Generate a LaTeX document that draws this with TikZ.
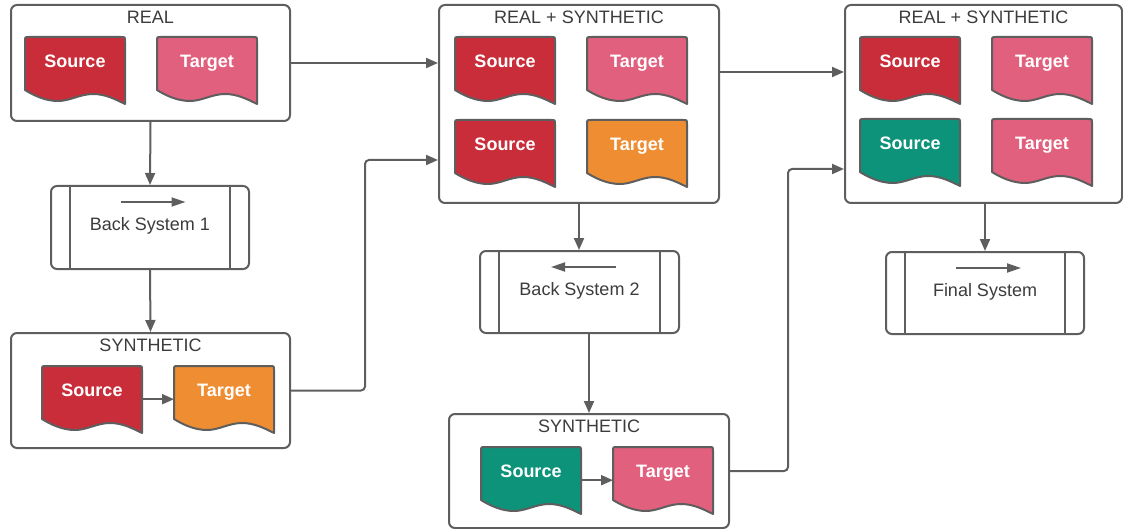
\documentclass[tikz,border=0pt]{standalone}
\usepackage{fontspec}
\setmainfont{Liberation Sans}
\usetikzlibrary{arrows.meta}

\definecolor{ln}{HTML}{5E5E5E}
\definecolor{txt}{HTML}{3C3C3C}
\definecolor{srcred}{HTML}{C92D39}
\definecolor{tgtpink}{HTML}{E0607E}
\definecolor{tgtorange}{HTML}{EF8D32}
\definecolor{srcgreen}{HTML}{0C937A}

\tikzset{
  container/.style={draw=ln, line width=2pt, rounded corners=6pt, fill=white,
    inner sep=0pt, anchor=north west},
  procbox/.style={draw=ln, line width=2pt, rounded corners=6pt, fill=white,
    inner sep=0pt, anchor=north west},
  holder/.style={inner sep=0pt, minimum width=100pt, minimum height=66pt, anchor=north west},
  doclabel/.style={text=white, font=\fontsize{18}{20}\selectfont\bfseries, anchor=base, inner sep=0pt},
  title/.style={text=txt, font=\fontsize{18}{20}\selectfont, anchor=base, inner sep=0pt},
  conn/.style={draw=ln, line width=2pt, -{Triangle[length=12pt,width=10pt]}},
  flow/.style={draw=ln, line width=1.8pt, -{Triangle[length=14pt,width=9pt]}},
  rail/.style={draw=ln, line width=2pt},
}

% document shape with a wavy bottom edge: name, left, top, fill, label
\newcommand\docshape[5]{%
  \node[holder] (#1) at (#2,#3) {};
  \begin{scope}[shift={(#1.north west)}]
    \filldraw[fill=#4, draw=ln, line width=2pt, line join=round]
      (0,53) -- (0,4) .. controls (0,0) .. (4,0) -- (96,0)
      .. controls (100,0) .. (100,4) -- (100,67)
      .. controls (90,62) and (80,57) .. (68,57)
      .. controls (55,57) and (45,64) .. (33,64)
      .. controls (20,64) and (8,58) .. (0,53) -- cycle;
    \node[doclabel] (#1-t) at (50,30.5) {#5};
  \end{scope}%
}

% process box with side rails, label and a direction arrow
\newcommand\process[8]{% name, left, top, width, height, label, arrow from, arrow to
  \node[procbox, minimum width=#4pt, minimum height=#5pt] (#1) at (#2,#3) {};
  \draw[rail] ([xshift=20pt]#1.north west) -- ([xshift=20pt]#1.south west);
  \draw[rail] ([xshift=-20pt]#1.north east) -- ([xshift=-20pt]#1.south east);
  \node[title] (#1-t) at ([yshift=-45pt]#1.north) {#6};
  \draw[flow] ([xshift=#7pt,yshift=-17pt]#1.north) -- ([xshift=#8pt,yshift=-17pt]#1.north);
}

\begin{document}
\begin{tikzpicture}[x=1pt,y=-1pt]
\useasboundingbox (0,0) rectangle (1123,529);

% containers
\node[container, minimum width=279pt, minimum height=116pt] (real) at (10,4) {};
\node[container, minimum width=280pt, minimum height=198pt] (rs1) at (438,4) {};
\node[container, minimum width=277pt, minimum height=198pt] (rs2) at (844,4) {};
\node[container, minimum width=279pt, minimum height=115pt] (syn1) at (10,332) {};
\node[container, minimum width=280pt, minimum height=114pt] (syn2) at (448,413) {};

\node[title] (realT) at ([yshift=-19.5pt]real.north) {REAL};
\node[title] (rs1T) at ([yshift=-19.5pt]rs1.north) {REAL + SYNTHETIC};
\node[title] (rs2T) at ([yshift=-19.5pt]rs2.north) {REAL + SYNTHETIC};
\node[title] (syn1T) at ([yshift=-19.5pt]syn1.north) {SYNTHETIC};
\node[title] (syn2T) at ([yshift=-19.5pt]syn2.north) {SYNTHETIC};

% documents
\docshape{rSrc}{25}{37}{srcred}{Source}
\docshape{rTgt}{157}{37}{tgtpink}{Target}

\docshape{aSrc1}{455}{37}{srcred}{Source}
\docshape{aTgt1}{587}{37}{tgtpink}{Target}
\docshape{aSrc2}{455}{120}{srcred}{Source}
\docshape{aTgt2}{587}{120}{tgtorange}{Target}

\docshape{bSrc1}{860}{37}{srcred}{Source}
\docshape{bTgt1}{992}{37}{tgtpink}{Target}
\docshape{bSrc2}{860}{119}{srcgreen}{Source}
\docshape{bTgt2}{992}{119}{tgtpink}{Target}

\docshape{s1Src}{42}{366}{srcred}{Source}
\docshape{s1Tgt}{174}{366}{tgtorange}{Target}

\docshape{s2Src}{481}{447}{srcgreen}{Source}
\docshape{s2Tgt}{613}{447}{tgtpink}{Target}

\draw[conn] (s1Src.east) -- (s1Tgt.west);
\draw[conn] (s2Src.east) -- (s2Tgt.west);

% systems
\process{bs1}{50}{185}{198}{83}{Back System 1}{-29.5}{35.5}
\process{bs2}{479}{250}{199}{82}{Back System 2}{36.5}{-28.5}
\process{fin}{885}{251}{198}{82}{Final System}{-29}{36}

% connectors
\draw[conn] (real.south) -- (bs1.north);
\draw[conn] (bs1.south) -- (syn1.north);
\draw[conn] (real.east) -- (real.east -| rs1.west);
\draw[conn, rounded corners=4pt] (syn1.east) -- ++(74,0) |- ([yshift=-56pt]rs1.west);
\draw[conn] ([yshift=32pt]rs1.east) -- ([yshift=32pt]rs1.east -| rs2.west);
\draw[conn] (rs1.south) -- (rs1.south |- bs2.north);
\draw[conn] (bs2.south -| syn2.north) -- (syn2.north);
\draw[conn, rounded corners=4pt] (syn2.east) -- ++(58,0) |- ([yshift=-65pt]rs2.west);
\draw[conn] (rs2.south -| fin.north) -- (fin.north);
\end{tikzpicture}
\end{document}
